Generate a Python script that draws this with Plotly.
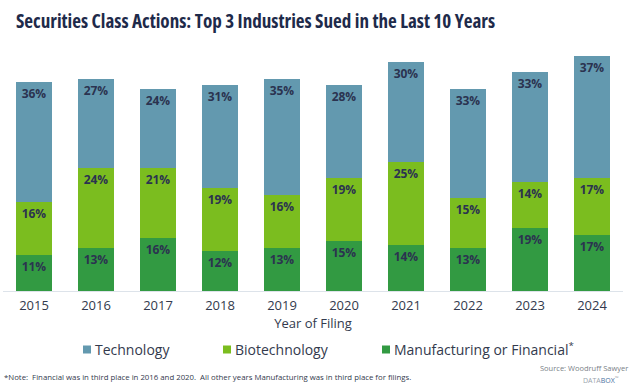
import plotly.graph_objects as go

years = ["2015", "2016", "2017", "2018", "2019", "2020", "2021", "2022", "2023", "2024"]
manufacturing = [11, 13, 16, 12, 13, 15, 14, 13, 19, 17]
biotech = [16, 24, 21, 19, 16, 19, 25, 15, 14, 17]
technology = [36, 27, 24, 31, 35, 28, 30, 33, 33, 37]

series_names = ["Manufacturing or Financial", "Biotechnology", "Technology"]
colors = ["#329A42", "#7BBD1F", "#6399AF"]

label_font = dict(family="Open Sans", size=12, color="#2B3350", weight="bold")

# plot area in pixels (for placing the legend and notes)
PL, PR, PT, PB = 3, 623, 50, 291


def px_x(x):
    return (x - PL) / (PR - PL)


def px_y(y):
    return (PB - y) / (PB - PT)


fig = go.Figure()
for name, vals, col in zip(series_names, [manufacturing, biotech, technology], colors):
    fig.add_trace(go.Bar(
        x=years, y=vals, name=name,
        marker=dict(color=col, line=dict(width=0)),
        texttemplate="%{y}%",
        textposition="inside",
        insidetextanchor="end",
        textangle=0,
        textfont=label_font,
        hoverinfo="skip",
        showlegend=False,
    ))

# legend drawn as squares + text
legend_items = [("Technology", colors[2], 83), ("Biotechnology", colors[1], 223),
                ("Manufacturing or Financial<sup>*</sup>", colors[0], 382)]
shapes = []
annotations = []
for text, col, sx in legend_items:
    shapes.append(dict(type="rect", xref="paper", yref="paper",
                       x0=px_x(sx), x1=px_x(sx + 8), y0=px_y(353.5), y1=px_y(345.5),
                       fillcolor=col, line=dict(width=0)))
    annotations.append(dict(text=text, xref="paper", yref="paper",
                            x=px_x(sx + 10), y=px_y(349), xanchor="left", yanchor="middle",
                            showarrow=False,
                            font=dict(family="Open Sans", size=14, color="#333A4D")))

annotations += [
    dict(text="*Note:  Financial was in third place in 2016 and 2020.  All other years Manufacturing was in third place for filings.",
         xref="paper", yref="paper", x=px_x(2), y=px_y(377), xanchor="left", yanchor="middle",
         showarrow=False, font=dict(family="Open Sans", size=7.8, color="#333A4D")),
    dict(text="Source: Woodruff Sawyer",
         xref="paper", yref="paper", x=px_x(630), y=px_y(368), xanchor="right", yanchor="middle",
         showarrow=False, font=dict(family="Open Sans", size=7.5, color="#7A7F88")),
    dict(text="DATA<span style='color:#4A6FA0'>BOX</span><sup>™</sup>",
         xref="paper", yref="paper", x=px_x(601), y=px_y(380), xanchor="center", yanchor="middle",
         showarrow=False, font=dict(family="Open Sans", size=7, color="#9AA3AD")),
]

fig.update_layout(
    width=640, height=392,
    barmode="stack",
    bargap=0.42,
    paper_bgcolor="white",
    plot_bgcolor="white",
    margin=dict(l=PL, r=640 - PR, t=PT, b=392 - PB),
    font=dict(family="Open Sans", color="#333A4D"),
    title=dict(
        text="<span style='font-stretch:condensed'><b>Securities Class Actions: Top 3 Industries Sued in the Last 10 Years</b></span>",
        font=dict(family="Open Sans", size=19.1, color="#1E2A4A"),
        x=px_x(16), xanchor="left", xref="paper",
        y=1 - 21 / 392, yanchor="middle",
    ),
    xaxis=dict(
        type="category",
        range=[-0.5, 9.5],
        showline=True, linecolor="#DDE3EA", linewidth=1,
        ticks="", showgrid=False,
        tickfont=dict(family="Open Sans", size=13, color="#333A4D"),
        ticklabelstandoff=2,
        title=dict(text="Year of Filing", font=dict(family="Open Sans", size=13, color="#333A4D"), standoff=3),
    ),
    yaxis=dict(range=[0, 72.7], visible=False, showgrid=False),
    showlegend=False,
    shapes=shapes,
    annotations=annotations,
)

fig.write_html("out.html", config={"displayModeBar": False},
               post_script="document.body.style.margin='0';")
